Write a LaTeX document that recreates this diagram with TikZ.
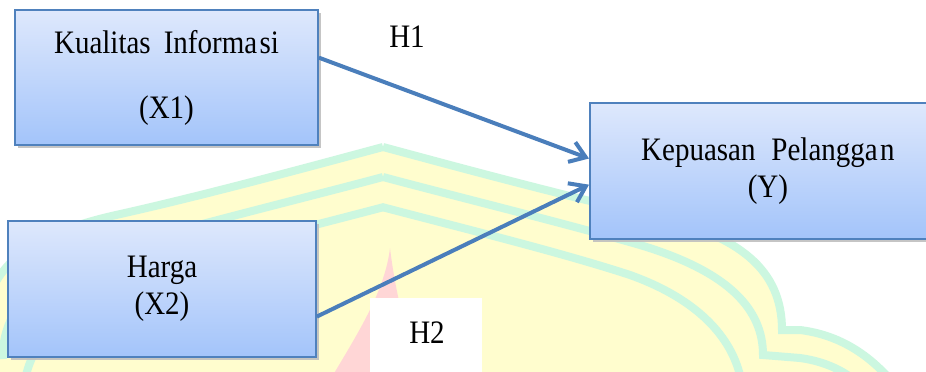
\documentclass[tikz,border=0pt]{standalone}
\usepackage{fontspec}
\usepackage{graphicx}
\setmainfont{Liberation Serif}
\usetikzlibrary{arrows.meta,calc,shadows}
\definecolor{wmyellow}{RGB}{255,253,206}
\definecolor{wmgreen}{RGB}{204,247,224}
\definecolor{wmpink}{RGB}{255,214,214}
\definecolor{boxtop}{RGB}{222,232,252}
\definecolor{boxbot}{RGB}{163,196,250}
\definecolor{boxline}{RGB}{79,129,189}
\definecolor{arrowc}{RGB}{74,126,187}
\newcommand\tallt[1]{\scalebox{1}[1.13]{#1}}
\begin{document}
\begin{tikzpicture}[x=1pt,y=-1pt,
  varbox/.style={draw=boxline, line width=1.8pt, top color=boxtop, bottom color=boxbot,
    align=center, font=\fontsize{29}{37}\selectfont, inner sep=0pt,
    drop shadow={shadow xshift=3pt, shadow yshift=-3pt, fill=black!25, opacity=0.9}},
  hlabel/.style={font=\fontsize{29}{37}\selectfont, inner sep=0pt},
  link/.style={draw=arrowc, line width=4pt, -{Straight Barb[length=15pt,width=21pt,line width=4pt]}},
  wmarc/.style={draw=wmgreen, line width=8pt}
]
\useasboundingbox (0,0) rectangle (926,372);
\clip (0,0) rectangle (926,372);
\fill[white] (0,0) rectangle (926,372);
% watermark: yellow dome
\fill[wmyellow]
  (383,147) .. controls (450,165) and (560,195) .. (650,215)
  .. controls (740,235) and (782,270) .. (782,330)
  -- (800,330) .. controls (840,335) and (870,355) .. (895,385)
  -- (-130,385)
  .. controls (-104,355) and (-74,335) .. (-34,330)
  -- (-16,330) .. controls (-16,270) and (26,235) .. (116,217)
  .. controls (206,199) and (316,165) .. (383,147) -- cycle;
% green arcs (right and mirrored left)
\foreach \s in {1,-1}{
  \begin{scope}[xshift=383pt, xscale=\s, xshift=-383pt]
    \draw[wmarc] (383,147) .. controls (450,165) and (560,195) .. (650,215)
      .. controls (740,235) and (782,270) .. (782,330)
      -- (800,330) .. controls (840,335) and (870,355) .. (895,385);
    \draw[wmarc] (383,177) .. controls (450,195) and (560,222) .. (640,245)
      .. controls (730,272) and (763,310) .. (763,355)
      -- (800,358) .. controls (830,362) and (850,375) .. (860,385);
    \draw[wmarc] (382,207) .. controls (450,225) and (560,252) .. (630,275)
      .. controls (700,300) and (735,340) .. (742,385);
  \end{scope}
}
% pink spike
\fill[wmpink] (390,248) .. controls (395,290) and (405,330) .. (420,380) -- (330,380)
  .. controls (360,330) and (385,290) .. (390,248) -- cycle;
% white patch behind H2
\fill[white] (370,298) rectangle (482,380);

% boxes
\node[varbox, minimum width=303pt, minimum height=135pt] (x1) at (166.5,77.5)
  {\tallt{Kualitas\hspace{0.45em}Informa\hspace{0.08em}si}\\[28pt]\tallt{(X1)}};
\node[varbox, minimum width=308pt, minimum height=136pt] (x2) at (162,289)
  {\tallt{Harga}\\\tallt{(X2)}};
\node[varbox, minimum width=356pt, minimum height=136pt, anchor=north west] (y) at (589,102)
  {\tallt{Kepuasan\hspace{0.55em}Pelangga\hspace{0.08em}n}\\\tallt{(Y)}};

% labels
\node[hlabel] (h1) at (407,37) {\tallt{H1}};
\node[hlabel] (h2) at (427,333) {\tallt{H2}};

% connectors
\draw[link] ($(x1.north east)!0.355!(x1.south east)$) -- ($(y.north west)!0.41!(y.south west)$);
\draw[link] ($(x2.north east)!0.70!(x2.south east)$) -- ($(y.north west)!0.60!(y.south west)$);
\end{tikzpicture}
\end{document}
